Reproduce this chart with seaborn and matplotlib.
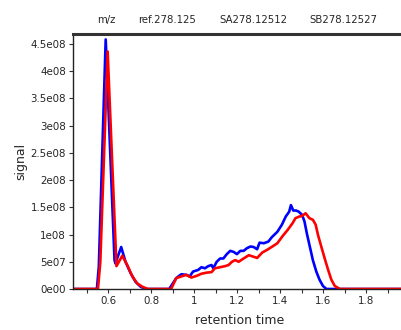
import matplotlib
matplotlib.use("Agg")
import matplotlib.pyplot as plt
from matplotlib.ticker import MultipleLocator, FixedLocator, FixedFormatter
import seaborn as sns
import pandas as pd

# Extracted ion chromatograms (signal in units of 1e8)
sa_time = [0.437, 0.548, 0.557, 0.589, 0.630, 0.634, 0.661, 0.681, 0.705, 0.728,
           0.752, 0.776, 0.884, 0.917, 0.940, 0.964, 0.979, 0.995, 1.019, 1.034,
           1.050, 1.066, 1.081, 1.089, 1.105, 1.121, 1.136, 1.152, 1.168, 1.184,
           1.199, 1.215, 1.230, 1.246, 1.262, 1.277, 1.293, 1.304, 1.324, 1.345,
           1.361, 1.387, 1.408, 1.426, 1.442, 1.450, 1.461, 1.474, 1.486, 1.502,
           1.513, 1.524, 1.536, 1.552, 1.568, 1.583, 1.599, 1.615, 1.985]
sa_signal = [0, 0, 0.41, 4.58, 0.53, 0.47, 0.77, 0.50, 0.29, 0.13,
             0.04, 0, 0, 0.20, 0.27, 0.26, 0.23, 0.32, 0.35, 0.40,
             0.38, 0.42, 0.44, 0.38, 0.50, 0.56, 0.56, 0.64, 0.70, 0.68,
             0.64, 0.70, 0.70, 0.75, 0.78, 0.77, 0.73, 0.85, 0.84, 0.87,
             0.95, 1.05, 1.18, 1.33, 1.42, 1.54, 1.44, 1.44, 1.42, 1.36,
             1.24, 1.02, 0.81, 0.53, 0.32, 0.17, 0.055, 0, 0]

sb_time = [0.437, 0.553, 0.564, 0.598, 0.639, 0.666, 0.689, 0.713, 0.736, 0.760,
           0.785, 0.893, 0.917, 0.940, 0.964, 0.987, 1.011, 1.034, 1.058, 1.081,
           1.097, 1.121, 1.144, 1.160, 1.176, 1.191, 1.207, 1.230, 1.254, 1.270,
           1.293, 1.317, 1.340, 1.364, 1.387, 1.411, 1.434, 1.458, 1.471, 1.489,
           1.502, 1.518, 1.536, 1.552, 1.565, 1.576, 1.591, 1.607, 1.623, 1.638,
           1.654, 1.678, 1.985]
sb_signal = [0, 0, 0.50, 4.36, 0.42, 0.61, 0.44, 0.23, 0.10, 0.04,
             0, 0, 0.20, 0.23, 0.26, 0.21, 0.24, 0.28, 0.30, 0.31,
             0.38, 0.40, 0.42, 0.44, 0.50, 0.53, 0.50, 0.56, 0.62, 0.60,
             0.57, 0.67, 0.72, 0.78, 0.84, 0.97, 1.08, 1.21, 1.30, 1.33,
             1.34, 1.39, 1.30, 1.27, 1.18, 0.99, 0.78, 0.56, 0.35, 0.17,
             0.055, 0, 0]

header_labels = ["m/z", "ref.278.125", "SA278.12512", "SB278.12527"]
y_ticks = [0, 0.5e8, 1e8, 1.5e8, 2e8, 2.5e8, 3e8, 3.5e8, 4e8, 4.5e8]
y_tick_labels = ["0e00", "5e07", "1e08", "1.5e08", "2e08", "2.5e08",
                 "3e08", "3.5e08", "4e08", "4.5e08"]

df = pd.concat([
    pd.DataFrame({"time": sa_time, "signal": [v * 1e8 for v in sa_signal],
                  "sample": "SA278.12512"}),
    pd.DataFrame({"time": sb_time, "signal": [v * 1e8 for v in sb_signal],
                  "sample": "SB278.12527"}),
])

sns.set_style("ticks")
plt.rcParams["font.family"] = ["DejaVu Sans"]

fig = plt.figure(figsize=(4.02, 3.30), dpi=100)
ax = fig.add_axes([73 / 402, 1 - 289 / 330, 1 - 73 / 402 + 0.01, (289 - 34) / 330])

sns.lineplot(data=df, x="time", y="signal", hue="sample",
             palette={"SA278.12512": "#0000ff", "SB278.12527": "#ff0000"},
             linewidth=1.9, sort=False, estimator=None, legend=False, ax=ax)

ax.set_xlim(0.437, 1.985)
ax.set_ylim(0, 4.68e8)

ax.xaxis.set_major_locator(MultipleLocator(0.2))
ax.xaxis.set_minor_locator(MultipleLocator(0.1))
ax.xaxis.set_major_formatter(matplotlib.ticker.FuncFormatter(lambda v, p: f"{v:g}"))
ax.yaxis.set_major_locator(FixedLocator(y_ticks))
ax.yaxis.set_major_formatter(FixedFormatter(y_tick_labels))

ax.tick_params(axis="both", which="both", direction="out", length=3,
               width=0.8, color="#333333", labelsize=7.4, pad=2)

for side in ["left", "bottom"]:
    ax.spines[side].set_color("#222222")
    ax.spines[side].set_linewidth(1.0)
ax.spines["right"].set_visible(False)
ax.spines["top"].set_color("#333333")
ax.spines["top"].set_linewidth(2.2)

ax.set_xlabel("retention time", fontsize=9, labelpad=6)
ax.set_ylabel("signal", fontsize=9, labelpad=2)

for x, lbl in zip([106.5, 167, 253, 343], header_labels):
    fig.text(x / 402, 1 - 20 / 330, lbl, ha="center", va="center", fontsize=7.3)

fig.savefig("out.png", dpi=100)
